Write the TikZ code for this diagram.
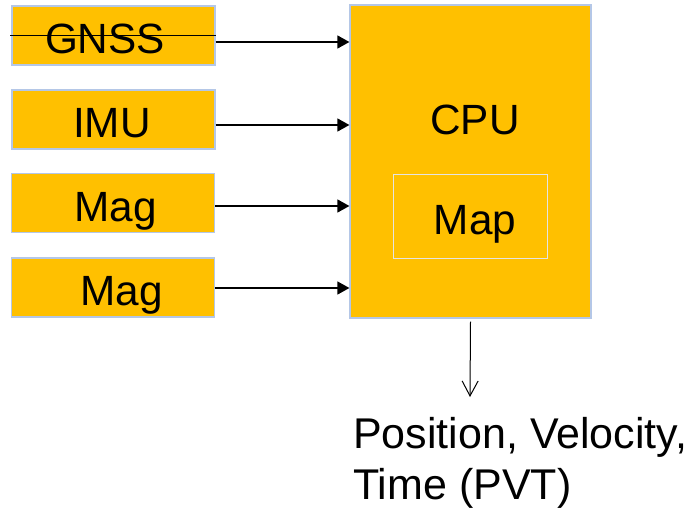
\documentclass[tikz,border=0pt]{standalone}
\usepackage{fontspec}
\setmainfont{Liberation Sans}
\usetikzlibrary{arrows.meta}
\definecolor{boxfill}{HTML}{FFC000}
\definecolor{boxedge}{HTML}{B4C7E7}
\definecolor{mapedge}{HTML}{E4E4E4}
\tikzset{
  txt/.style={font=\fontsize{42.3pt}{51pt}\selectfont},
  inbox/.style={txt, draw=boxedge, line width=1.2pt, fill=boxfill,
    minimum width=203pt, minimum height=59pt, inner sep=0pt,
    text height=36pt, text depth=0pt},
  cpubox/.style={draw=boxedge, line width=1.2pt, fill=boxfill,
    minimum width=241pt, minimum height=313pt, inner sep=0pt},
  mapbox/.style={txt, draw=mapedge, line width=1pt, fill=boxfill,
    minimum width=154pt, minimum height=84pt, inner sep=0pt,
    text height=36pt, text depth=0pt},
  arr/.style={line width=1.3pt, -{Triangle[length=12pt,width=13pt]}},
  outarr/.style={line width=1pt, -{Straight Barb[length=15pt,width=16pt,line width=1pt]}},
}
\begin{document}
\begin{tikzpicture}[x=1pt,y=-1pt]
\useasboundingbox (0,0) rectangle (693,508);
% input boxes
\node[inbox] (gnss) at (113.5,35.5) {\hspace*{-17pt}GNSS};
\node[inbox] (imu)  at (113.5,119.5) {\hspace*{-3pt}IMU};
\node[inbox] (mag1) at (113,203) {\hspace*{5pt}Mag};
\node[inbox] (mag2) at (113,287.5) {\hspace*{17pt}Mag};
% strike-through on GNSS
\draw[line width=1.3pt] ([xshift=-1pt]gnss.west) -- (gnss.east);
% CPU block
\node[cpubox] (cpu) at (470.5,161.5) {};
\node[txt, anchor=base, inner sep=0pt] (cputext) at (475,135) {CPU};
\node[mapbox] (map) at (470,216) {\hspace*{10pt}Map};
% connectors
\draw[arr] ([yshift=-6.5pt]gnss.east) -- ([yshift=-6.5pt]gnss.east -| cpu.west);
\draw[arr] ([yshift=-5.5pt]imu.east) -- ([yshift=-5.5pt]imu.east -| cpu.west);
\draw[arr] ([yshift=-3pt]mag1.east) -- ([yshift=-3pt]mag1.east -| cpu.west);
\draw[arr] ([yshift=-0.5pt]mag2.east) -- ([yshift=-0.5pt]mag2.east -| cpu.west);
% output
\coordinate (outend) at (470,397);
\node[font=\fontsize{43pt}{51pt}\selectfont, anchor=north west, align=left, inner sep=0pt] (pvt) at (353,417) {Position, Velocity,\\Time (PVT)};
\draw[outarr] ([yshift=-3pt]cpu.south) -- (outend);
\end{tikzpicture}
\end{document}
